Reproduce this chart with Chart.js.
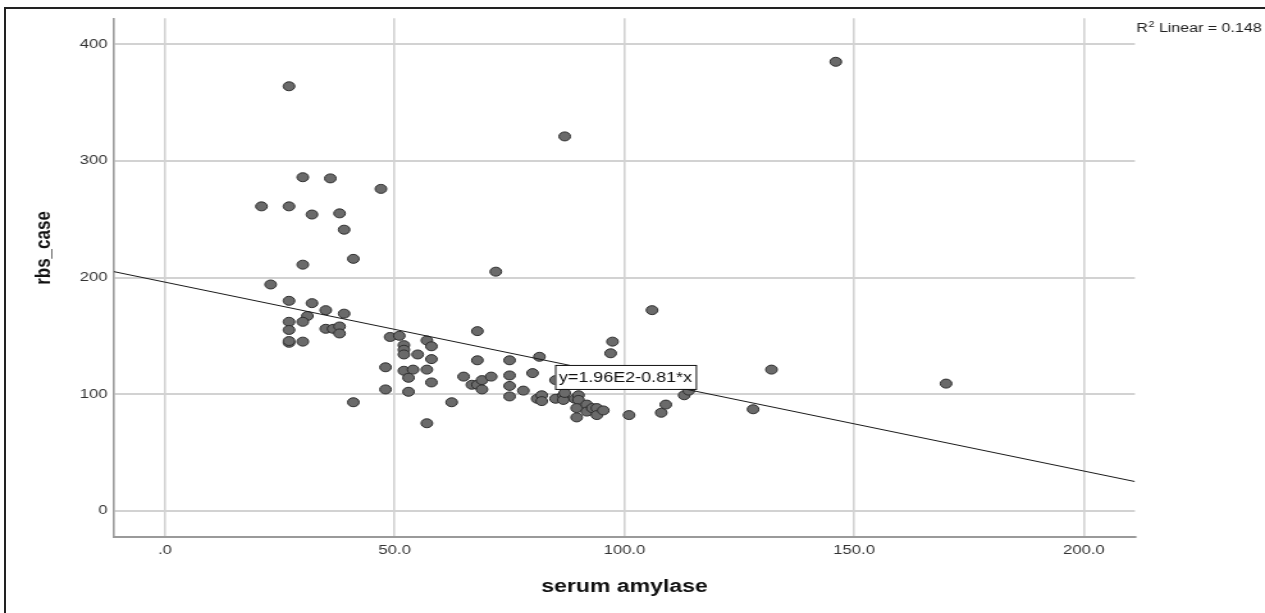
<!DOCTYPE html>
<html>
<head>
<meta charset="utf-8">
<script src="https://cdn.jsdelivr.net/npm/chart.js@4.4.1/dist/chart.umd.min.js"></script>
<style>
  html, body { margin: 0; padding: 0; background: #fff; overflow: hidden; }
  #wrap { position: relative; width: 1265px; height: 613px; }
  #chart { position: absolute; left: 0; top: 0; }
  #frame { position: absolute; left: 4px; top: 7px; width: 1270px; height: 620px;
           border-left: 2px solid #222; border-top: 2px solid #222; pointer-events: none; }
</style>
</head>
<body>
<div id="wrap">
  <!-- the original picture is stretched sideways, so the canvas is too (inline style keeps Chart.js from resetting it) -->
  <canvas id="chart" width="988" height="613" style="width:1265px;height:613px"></canvas>
  <div id="frame"></div>
</div>
<script>
// serum amylase (x) vs rbs_case (y)
const amylase = [
  27, 30, 36, 47, 21, 27, 32, 38, 39, 41, 30, 23, 27, 32, 35, 39, 31, 30, 27, 27,
  35, 36.6, 38, 38, 27, 27, 30, 41,
  49, 51, 52, 52, 52, 55, 57, 58, 58, 48, 52, 54, 53, 57, 58, 48, 53, 57,
  62.4, 65, 68, 68, 66.8, 68, 69, 69, 71, 72, 75, 75, 75, 75, 78, 80, 81.5,
  81, 82, 82, 85, 85, 86.7, 86.7, 87, 87, 89.2, 90, 90, 89.6, 89.6, 91.8, 91.8,
  93, 94, 94, 95.4, 97.4, 97, 101, 106, 108, 109, 113, 114, 128, 132, 146, 170
];
const rbsCase = [
  364, 286, 285, 276, 261, 261, 254, 255, 241, 216, 211, 194, 180, 178, 172, 169, 167, 162, 162, 155,
  156, 156, 158, 152, 144, 145.5, 145, 93,
  149, 150, 142, 138, 134, 134, 146, 141, 130, 123, 120, 121, 114, 121, 110, 104, 102, 75,
  93, 115, 154, 129, 108, 108, 112, 104, 115, 205, 129, 116, 107, 98, 103, 118, 132,
  96, 99, 94, 112, 96, 99, 95, 101, 321, 96, 99, 95, 88, 80, 91, 85,
  88, 88, 82, 86, 145, 135, 82, 172, 84, 91, 99, 103, 87, 121, 385, 109
];

const xTicks = [0, 50, 100, 150, 200];
const xTickLabels = ['.0', '50.0', '100.0', '150.0', '200.0'];
const yTicks = [0, 100, 200, 300, 400];
const yTickLabels = ['0', '100', '200', '300', '400'];

// fitted line end points and its labels
const fitX = [-11.1, 211.1];
const fitY = [205, 25];
const fitLabel = 'y=1.96E2-0.81*x';
const fitLabelAt = [84.9, 125];
const r2Value = '0.148';

const FONT = '"Liberation Sans", Arial, sans-serif';

const extras = {
  id: 'extras',
  afterDatasetsDraw(chart) {
    const { ctx, scales: { x, y } } = chart;
    ctx.save();
    ctx.font = '14px ' + FONT;
    const w = ctx.measureText(fitLabel).width + 6;
    const bx = x.getPixelForValue(fitLabelAt[0]);
    const by = y.getPixelForValue(fitLabelAt[1]);
    ctx.fillStyle = '#fff';
    ctx.fillRect(bx, by, w, 24);
    ctx.strokeStyle = '#111';
    ctx.lineWidth = 1;
    ctx.strokeRect(bx + 0.5, by + 0.5, w, 24);
    ctx.fillStyle = '#111';
    ctx.textBaseline = 'middle';
    ctx.fillText(fitLabel, bx + 3, by + 13);
    ctx.restore();
  },
  afterDraw(chart) {
    const { ctx, chartArea } = chart;
    ctx.save();
    // R squared note
    ctx.fillStyle = '#222';
    ctx.textBaseline = 'alphabetic';
    let tx = chartArea.right + 1;
    ctx.font = '12.5px ' + FONT;
    ctx.fillText('R', tx, 32);
    tx += ctx.measureText('R').width + 0.5;
    ctx.font = '8.5px ' + FONT;
    ctx.fillText('2', tx, 27);
    tx += ctx.measureText('2').width;
    ctx.font = '12.5px ' + FONT;
    ctx.fillText(' Linear = ' + r2Value, tx, 32);
    // y axis title
    ctx.translate(34.4, 248);
    ctx.rotate(-Math.PI / 2);
    ctx.font = 'bold 17px ' + FONT;
    ctx.fillStyle = '#111';
    ctx.textAlign = 'center';
    ctx.textBaseline = 'middle';
    ctx.fillText('rbs_case', 0, 0);
    ctx.restore();
  }
};

new Chart(document.getElementById('chart'), {
  type: 'scatter',
  data: {
    datasets: [
      {
        type: 'line',
        data: fitX.map((v, i) => ({ x: v, y: fitY[i] })),
        borderColor: '#1a1a1a',
        borderWidth: 1,
        pointRadius: 0,
        fill: false,
        order: 0
      },
      {
        data: amylase.map((v, i) => ({ x: v, y: rbsCase[i] })),
        backgroundColor: '#6a6a6a',
        borderColor: '#2e2e2e',
        borderWidth: 1,
        pointRadius: 4.5,
        order: 1
      }
    ]
  },
  options: {
    responsive: false,
    animation: false,
    events: [],
    layout: { padding: { top: 18.3, right: 101.6, left: 0, bottom: 0 } },
    plugins: { legend: { display: false }, tooltip: { enabled: false } },
    scales: {
      x: {
        type: 'linear',
        min: -11.1,
        max: 211.1,
        afterBuildTicks: s => { s.ticks = xTicks.map(v => ({ value: v })); },
        afterFit: s => { s.height = 76.3; },
        ticks: {
          callback: (v, i) => xTickLabels[i],
          padding: 6,
          color: '#333',
          font: { family: FONT, size: 13 },
          maxRotation: 0,
          autoSkip: false
        },
        grid: { color: '#d2d2d2', lineWidth: 1.6, drawTicks: false },
        border: { color: '#9a9a9a', width: 2 },
        title: {
          display: true,
          text: 'serum amylase',
          color: '#111',
          font: { family: FONT, size: 18, weight: 'bold' },
          padding: { top: 0, bottom: 15.2 }
        }
      },
      y: {
        type: 'linear',
        min: -22.3,
        max: 422.3,
        afterBuildTicks: s => { s.ticks = yTicks.map(v => ({ value: v })); },
        afterFit: s => { s.width = 89; },
        ticks: {
          callback: (v, i) => yTickLabels[i],
          padding: 5,
          color: '#333',
          font: { family: FONT, size: 13 },
          autoSkip: false
        },
        grid: { color: '#d2d2d2', lineWidth: 2, drawTicks: false },
        border: { color: '#9a9a9a', width: 1.6 }
      }
    }
  },
  plugins: [extras]
});
</script>
</body>
</html>
